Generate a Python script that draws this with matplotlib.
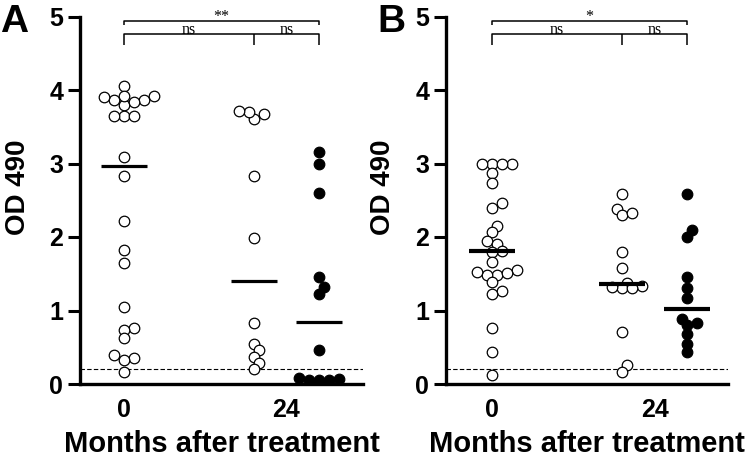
import numpy as np
import matplotlib
matplotlib.use("Agg")
import matplotlib.pyplot as plt

# ── Data (OD 490 readings) ───────────────────────────────────────────────
a_month0 = [4.05, 3.80, 3.86, 3.92, 3.92, 3.86, 3.83, 3.90, 3.64, 3.65, 3.65,
            3.09, 2.83, 2.22, 1.82, 1.64, 1.05, 0.76, 0.73, 0.62, 0.40, 0.35,
            0.33, 0.17]
a_month24_open = [3.67, 3.61, 3.70, 3.72, 2.83, 1.98, 0.83, 0.54, 0.46, 0.37,
                  0.29, 0.20]
a_month24_filled = [3.15, 3.00, 2.60, 1.46, 1.32, 1.23, 0.46, 0.06, 0.08,
                    0.05, 0.07, 0.05]

b_month0 = [2.99, 2.99, 3.00, 2.99, 2.87, 2.74, 2.46, 2.39, 2.15, 2.07, 1.94,
            1.90, 1.81, 1.80, 1.66, 1.55, 1.48, 1.48, 1.51, 1.53, 1.39, 1.26,
            1.23, 0.76, 0.44, 0.12]
b_month24_open = [2.59, 2.38, 2.30, 2.32, 1.80, 1.58, 1.38, 1.30, 1.33, 1.30,
                  1.32, 0.71, 0.26, 0.17]
b_month24_filled = [2.59, 2.10, 2.00, 1.46, 1.30, 1.17, 0.83, 0.88, 0.80,
                    0.68, 0.55, 0.43]

month_ticks = ["0", "24"]
cutoff = 0.2
a_stars = ["ns", "ns", "**"]
b_stars = ["ns", "ns", "*"]

plt.rcParams.update({
    "font.family": ["Liberation Sans", "DejaVu Sans"],
    "font.weight": "bold",
})

XPX, YPX = 65.0, 73.5   # pixels per data unit


def swarm(values, d_px=7.5, step_px=5.0):
    """Simple beeswarm: x offsets (data units) so circles barely overlap."""
    vals = np.asarray(values, dtype=float)
    offs = np.zeros(len(vals))
    placed = []
    cands = [0]
    for k in range(1, 10):
        cands += [k, -k]
    for i in np.argsort(vals):
        y = vals[i] * YPX
        for k in cands:
            x = k * step_px
            if all(np.hypot(x - px, y - py) >= d_px for px, py in placed):
                break
        placed.append((x, y))
        offs[i] = x / XPX
    return offs


def draw_panel(ax, groups, stars, xlim, med_lw):
    pos = [0, 2, 3]
    for p, (vals, filled) in zip(pos, groups):
        xs = p + swarm(vals)
        ax.plot(xs, vals, "o", ms=7.6, mew=0.9, mec="black",
                mfc="black" if filled else "white", ls="none", zorder=3)
        ax.hlines(np.median(vals), p - 0.35, p + 0.35, color="black",
                  lw=med_lw, zorder=4)
    ax.axhline(cutoff, color="black", lw=0.8, ls=(0, (4, 2)), zorder=1)

    # significance brackets
    kw = dict(color="black", lw=1.1, clip_on=False, solid_capstyle="butt")
    ax.plot([0, 0, 3, 3], [4.88, 4.94, 4.94, 4.88], **kw)
    ax.plot([0, 0, 3, 3], [4.61, 4.76, 4.76, 4.61], **kw)
    ax.plot([2, 2], [4.61, 4.76], **kw)
    tkw = dict(family="Liberation Serif", fontweight="normal", fontsize=11.5,
               ha="center", clip_on=False)
    ax.text(1.0, 4.765, stars[0], va="baseline", **tkw)
    ax.text(2.5, 4.765, stars[1], va="baseline", **tkw)
    ax.text(1.5, 4.89, stars[2], va="bottom", **tkw)

    ax.set_xlim(*xlim)
    ax.set_ylim(0, 5)
    ax.set_yticks([0, 1, 2, 3, 4, 5])
    ax.set_xticks([0, 2.5])
    ax.set_xticklabels(month_ticks)
    for s in ("top", "right"):
        ax.spines[s].set_visible(False)
    for s in ("left", "bottom"):
        ax.spines[s].set_linewidth(2.4)
    ax.tick_params(axis="y", length=9, width=2.2, labelsize=18, pad=3)
    ax.tick_params(axis="x", length=0, labelsize=18, pad=10)
    ax.set_ylabel("OD 490", fontsize=20, fontweight="bold")
    ax.set_xlabel("Months after treatment", fontsize=21, fontweight="bold")
    ax.xaxis.set_label_coords(0.5, -0.125)


fig = plt.figure(figsize=(7.5, 4.59), dpi=100)
W, H = 750.0, 459.0
axA = fig.add_axes([80 / W, 1 - 384 / H, 283 / W, 367.5 / H])
axB = fig.add_axes([446 / W, 1 - 384 / H, 282 / W, 367.5 / H])

draw_panel(axA, [(a_month0, False), (a_month24_open, False),
                 (a_month24_filled, True)], a_stars, (-0.677, 3.677), 2.3)
draw_panel(axB, [(b_month0, False), (b_month24_open, False),
                 (b_month24_filled, True)], b_stars, (-0.708, 3.63), 3.0)
axA.yaxis.set_label_coords(-0.172, 0.535)
axB.yaxis.set_label_coords(-0.177, 0.535)

fig.text(0 / W, 1 - 4 / H, "A", fontsize=28, fontweight="bold",
         ha="left", va="top")
fig.text(377 / W, 1 - 4 / H, "B", fontsize=28, fontweight="bold",
         ha="left", va="top")

fig.savefig("out.png", dpi=100)
